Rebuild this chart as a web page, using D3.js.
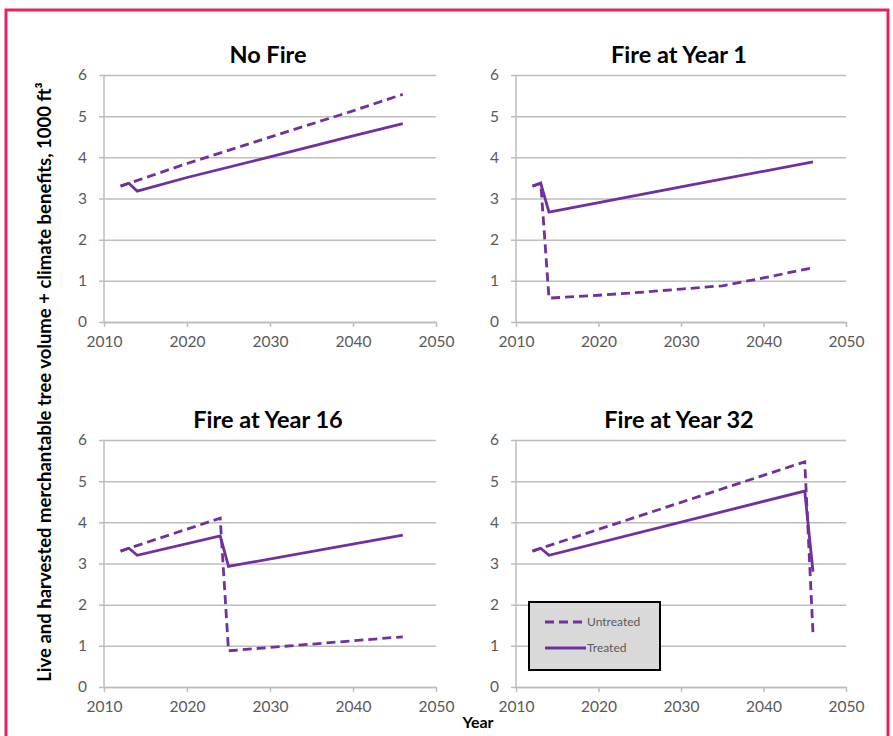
<!DOCTYPE html>
<html>
<head>
<meta charset="utf-8">
<script src="https://cdn.jsdelivr.net/npm/d3@7"></script>
<style>
  html, body { margin: 0; padding: 0; background: #fff; }
  svg { display: block; }
</style>
</head>
<body>
<svg id="chart" width="893" height="736"></svg>
<script>
// Axis ticks shared by all four panels
const xTicks = [2010, 2020, 2030, 2040, 2050];
const yTicks = [0, 1, 2, 3, 4, 5, 6];

// Panel titles
const panelTitles = ["No Fire", "Fire at Year 1", "Fire at Year 16", "Fire at Year 32"];

// Series names
const seriesNames = ["Untreated", "Treated"];

// No fire
const noFireUntreatedYears = [2012, 2020, 2030, 2040, 2046];
const noFireUntreatedValues = [3.30, 3.85, 4.49, 5.13, 5.53];
const noFireTreatedYears = [2012, 2013, 2014, 2020, 2030, 2040, 2046];
const noFireTreatedValues = [3.30, 3.37, 3.18, 3.51, 4.01, 4.52, 4.82];

// Fire at year 1
const fire1UntreatedYears = [2012, 2013, 2014, 2020, 2025, 2030, 2035, 2040, 2046];
const fire1UntreatedValues = [3.30, 3.37, 0.58, 0.65, 0.72, 0.80, 0.88, 1.07, 1.32];
const fire1TreatedYears = [2012, 2013, 2014, 2030, 2046];
const fire1TreatedValues = [3.30, 3.37, 2.67, 3.28, 3.89];

// Fire at year 16
const fire16UntreatedYears = [2012, 2013, 2024, 2025, 2046];
const fire16UntreatedValues = [3.30, 3.37, 4.10, 0.88, 1.22];
const fire16TreatedYears = [2012, 2013, 2014, 2024, 2025, 2046];
const fire16TreatedValues = [3.30, 3.37, 3.20, 3.67, 2.93, 3.69];

// Fire at year 32
const fire32UntreatedYears = [2012, 2013, 2045, 2046];
const fire32UntreatedValues = [3.30, 3.37, 5.47, 1.30];
const fire32TreatedYears = [2012, 2013, 2014, 2045, 2046];
const fire32TreatedValues = [3.30, 3.37, 3.20, 4.76, 2.80];

const panelData = [
  [[noFireUntreatedYears, noFireUntreatedValues], [noFireTreatedYears, noFireTreatedValues]],
  [[fire1UntreatedYears, fire1UntreatedValues], [fire1TreatedYears, fire1TreatedValues]],
  [[fire16UntreatedYears, fire16UntreatedValues], [fire16TreatedYears, fire16TreatedValues]],
  [[fire32UntreatedYears, fire32UntreatedValues], [fire32TreatedYears, fire32TreatedValues]]
];

const FONT = "Lato, 'Open Sans', sans-serif";
const PURPLE = "#7030a0";
const GRID = "#bdbdbd";
const LABEL = "#595959";

const svg = d3.select("#chart");
svg.append("rect").attr("width", 893).attr("height", 736).attr("fill", "#fff");

// Frame
svg.append("rect")
  .attr("x", 6).attr("y", 10).attr("width", 882).attr("height", 760)
  .attr("fill", "none").attr("stroke", "#e3245c").attr("stroke-width", 3);

// Plot areas: [left, right, top, bottom]
const layouts = [
  [104, 436, 75, 322],
  [516, 846, 75, 322],
  [104, 436, 440, 687],
  [516, 846, 440, 687]
];

layouts.forEach((L, i) => {
  const [x0, x1, y0, y1] = L;
  const x = d3.scaleLinear().domain([2010, 2050]).range([x0, x1]);
  const y = d3.scaleLinear().domain([0, 6]).range([y1, y0]);
  const g = svg.append("g");

  // Horizontal gridlines with short ticks to the left
  const yAxis = d3.axisLeft(y).tickValues(yTicks).tickSizeInner(-(x1 - x0)).tickSizeOuter(0).tickFormat("");
  const gy = g.append("g").attr("transform", `translate(${x0},0)`).call(yAxis);
  gy.select(".domain").remove();
  gy.selectAll(".tick line").attr("stroke", GRID).attr("stroke-width", 1.5).attr("x1", -5);

  // Y tick labels
  const yLab = d3.axisLeft(y).tickValues(yTicks).tickFormat(d3.format("d")).tickSize(0).tickPadding(17);
  const gyl = g.append("g").attr("transform", `translate(${x0},0)`).call(yLab);
  gyl.select(".domain").remove();
  gyl.selectAll("text").attr("fill", LABEL).style("font", `15.5px ${FONT}`);

  // Vertical axis line
  g.append("line").attr("x1", x0).attr("x2", x0).attr("y1", y0).attr("y2", y1)
    .attr("stroke", GRID).attr("stroke-width", 1.5);

  // X axis
  const xAxis = d3.axisBottom(x).tickValues(xTicks).tickFormat(d3.format("d")).tickSizeInner(5).tickSizeOuter(0).tickPadding(9);
  const gx = g.append("g").attr("transform", `translate(0,${y1})`).call(xAxis);
  gx.select(".domain").attr("stroke", GRID).attr("stroke-width", 1.5);
  gx.selectAll(".tick line").attr("stroke", GRID).attr("stroke-width", 1.5);
  gx.selectAll("text").attr("fill", LABEL).style("font", `15.5px ${FONT}`);

  // Title
  g.append("text")
    .attr("x", (x0 + x1) / 2 - 2).attr("y", y0 - 12)
    .attr("text-anchor", "middle")
    .style("font", `bold 23.5px ${FONT}`).attr("fill", "#000")
    .text(panelTitles[i]);

  // Series lines
  const line = d3.line().x(d => x(d[0])).y(d => y(d[1]));
  panelData[i].forEach((s, k) => {
    const pts = s[0].map((yr, j) => [yr, s[1][j]]);
    g.append("path").datum(pts)
      .attr("d", line)
      .attr("fill", "none")
      .attr("stroke", PURPLE)
      .attr("stroke-width", 2.8)
      .attr("stroke-linejoin", "miter")
      .attr("stroke-dasharray", k === 0 ? "9,5" : null);
  });
});

// Legend in the last panel
const lg = svg.append("g").attr("transform", "translate(529,602)");
lg.append("rect").attr("width", 131).attr("height", 68)
  .attr("fill", "#d9d9d9").attr("stroke", "#000").attr("stroke-width", 2);
seriesNames.forEach((name, k) => {
  const yy = 20 + k * 26;
  lg.append("line").attr("x1", 16).attr("x2", 57).attr("y1", yy).attr("y2", yy)
    .attr("stroke", PURPLE).attr("stroke-width", 2.8)
    .attr("stroke-dasharray", k === 0 ? "9,5" : null);
  lg.append("text").attr("x", k === 0 ? 58 : 57).attr("y", yy).attr("dy", "0.35em")
    .attr("dx", k === 0 ? 0 : 1)
    .style("font", `12px ${FONT}`).attr("fill", LABEL)
    .text(name);
});

// Shared axis titles
svg.append("text")
  .attr("transform", "translate(51,382) rotate(-90)")
  .attr("text-anchor", "middle")
  .style("font", `bold 18.5px ${FONT}`).attr("fill", "#000")
  .text("Live and harvested merchantable tree volume + climate benefits, 1000 ft³");

svg.append("text")
  .attr("x", 478).attr("y", 728).attr("text-anchor", "middle")
  .style("font", `bold 16px ${FONT}`).attr("fill", "#000")
  .text("Year");
</script>
</body>
</html>
